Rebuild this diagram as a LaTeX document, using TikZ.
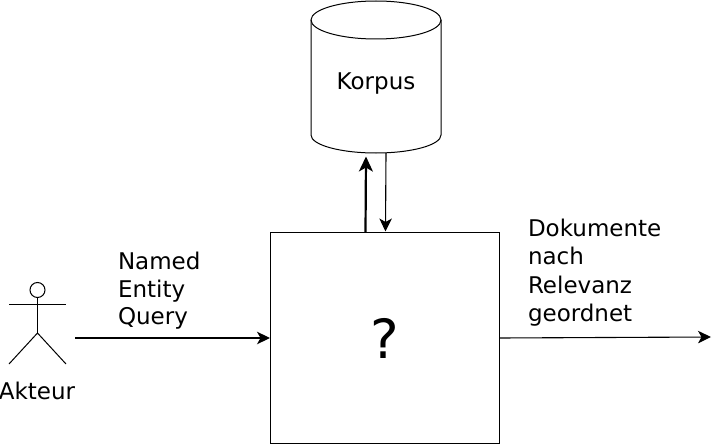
\documentclass[tikz,border=0pt]{standalone}
\usepackage{fontspec}
\setmainfont{DejaVu Sans}
\usetikzlibrary{arrows.meta}
\tikzset{
  every node/.style={inner sep=0pt,outer sep=0pt},
  lbl/.style={font=\fontsize{23}{28.3}\selectfont,align=left,anchor=north west},
  ln/.style={line width=1pt,draw=black},
  conn/.style={line width=1.1pt,-{Stealth[length=13pt,width=12.5pt,inset=3.5pt]}},
  thickconn/.style={line width=2.2pt,-{Stealth[length=15pt,width=14pt,inset=4pt]}},
}
\begin{document}
\begin{tikzpicture}[x=1pt,y=-1pt]
\useasboundingbox (0,0) rectangle (712,444);
% box
\node[ln,draw,rectangle,minimum width=229pt,minimum height=211pt] (box) at (384.5,337.5) {};
\node[font=\fontsize{54}{54}\selectfont] (q) at (385,338) {?};
% corpus
\draw[ln] (311,20) arc[start angle=180,end angle=-180,x radius=65,y radius=-19];
\draw[ln] (311,20) -- (311,135) arc[start angle=180,end angle=360,x radius=65,y radius=-18] -- (441,20);
\node[font=\fontsize{23}{28}\selectfont] (korpus) at (376,84) {Korpus};
% actor
\node[ln,draw,circle,minimum size=15pt] (head) at (37.5,290) {};
\coordinate (hip) at (37.5,333);
\coordinate (lhand) at (9,304);
\coordinate (rhand) at (66,304);
\coordinate (lfoot) at (9,364);
\coordinate (rfoot) at (66,364);
\draw[ln] (head.south) -- (hip);
\draw[ln] (lhand) -- (rhand);
\draw[ln] (lfoot) -- (hip) -- (rfoot);
\node[font=\fontsize{23}{28}\selectfont] (akteur) at (37,391) {Akteur};
% free ends
\coordinate (inStart) at (75,338);
\coordinate (inEnd) at (box.west |- inStart);
\coordinate (outStart) at (box.east |- inStart);
\coordinate (outEnd) at (711,337);
\coordinate (upStart) at (365.5,232);
\coordinate (upEnd) at (366,156.5);
\coordinate (downStart) at (386,153);
\coordinate (downEnd) at (385.5,231.5);
\draw[conn] (inStart) -- (inEnd);
\draw[conn] (outStart) -- (outEnd);
\draw[thickconn] (upStart) -- (upEnd);
\draw[conn] (downStart) -- (downEnd);
% labels
\node[lbl,font=\fontsize{23}{27.7}\selectfont] (query) at (118,252) {Named\\Entity\\Query};
\node[lbl] (docs) at (528,219) {Dokumente\\nach\\Relevanz\\geordnet};
\end{tikzpicture}
\end{document}
